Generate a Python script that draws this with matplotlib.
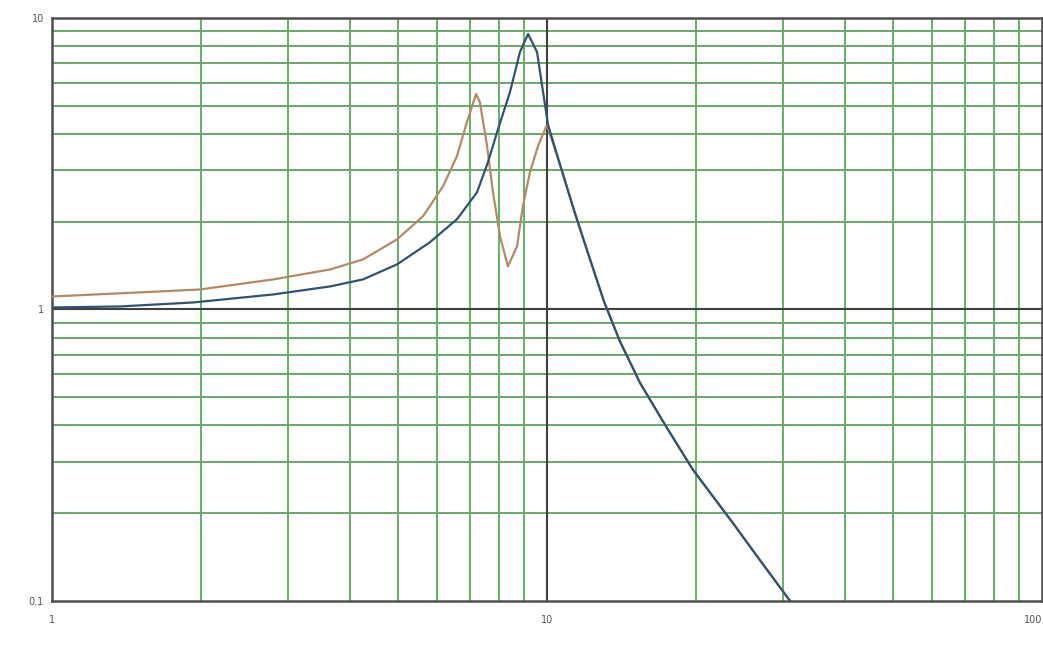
import matplotlib
matplotlib.use("Agg")
import matplotlib.pyplot as plt

# values (log-log chart)
freq_blue = [1.0, 1.37, 1.93, 2.80, 3.65, 4.25, 4.98, 5.80, 6.58, 7.22, 7.60, 7.93,
             8.42, 8.82, 9.16, 9.55, 9.82, 10.05, 10.62, 11.39, 12.22, 13.04, 14.05,
             15.41, 17.31, 19.72, 23.76, 26.94, 31.0]
amp_blue = [1.016, 1.024, 1.057, 1.126, 1.20, 1.268, 1.428, 1.70, 2.04, 2.52, 3.20, 4.06,
            5.57, 7.64, 8.81, 7.64, 5.57, 4.30, 3.15, 2.14, 1.485, 1.065, 0.776,
            0.561, 0.403, 0.282, 0.185, 0.138, 0.1]

freq_orange = [1.0, 1.65, 1.99, 2.80, 3.65, 4.25, 4.98, 5.62, 6.17, 6.58, 6.89, 7.19,
               7.32, 7.57, 7.78, 8.04, 8.34, 8.70, 8.94, 9.24, 9.59, 10.0, 10.62, 11.39,
               12.22, 13.04, 14.05, 15.41, 17.31, 19.72, 23.76, 26.94, 31.0]
amp_orange = [1.108, 1.153, 1.171, 1.268, 1.372, 1.485, 1.74, 2.09, 2.65, 3.36, 4.39, 5.48,
              5.14, 3.63, 2.52, 1.78, 1.405, 1.646, 2.26, 2.96, 3.63, 4.30, 3.15, 2.14,
              1.485, 1.065, 0.776, 0.561, 0.403, 0.282, 0.185, 0.138, 0.1]

x_ticks = [1, 10, 100]
x_labels = ['1', '10', '100']
y_ticks = [0.1, 1, 10]
y_labels = ['0.1', '1', '10']

fig = plt.figure(figsize=(10.43, 6.5), dpi=100, facecolor='white')
ax = fig.add_axes([0.0499, 0.0754, 0.949, 0.897])
ax.set_xscale('log')
ax.set_yscale('log')
ax.set_xlim(1, 100)
ax.set_ylim(0.1, 10)

# green minor grid, dark major grid
for dec in [1, 10]:
    for m in range(2, 10):
        ax.axvline(m * dec, color='#5cb85c', lw=1.4, zorder=1)
for dec in [0.1, 1]:
    for m in range(2, 10):
        ax.axhline(m * dec, color='#6aa86a', lw=1.4, zorder=1)
ax.axvline(10, color='#404040', lw=1.5, zorder=1)
ax.axhline(1, color='#404040', lw=1.5, zorder=1)

ax.plot(freq_orange, amp_orange, color='#b48a66', lw=1.6, zorder=3)
ax.plot(freq_blue, amp_blue, color='#2f5472', lw=1.6, zorder=4)

ax.set_xticks(x_ticks)
ax.set_xticklabels(x_labels)
ax.set_yticks(y_ticks)
ax.set_yticklabels(y_labels)
ax.minorticks_off()
ax.tick_params(length=0, labelsize=7, colors='#555555')
ax.tick_params(axis='x', pad=10)
ax.tick_params(axis='y', pad=6)
ax.get_xticklabels()[-1].set_horizontalalignment('right')

for s in ax.spines.values():
    s.set_color('#505050')
    s.set_linewidth(1.8)

plt.savefig('out.png', dpi=100)
